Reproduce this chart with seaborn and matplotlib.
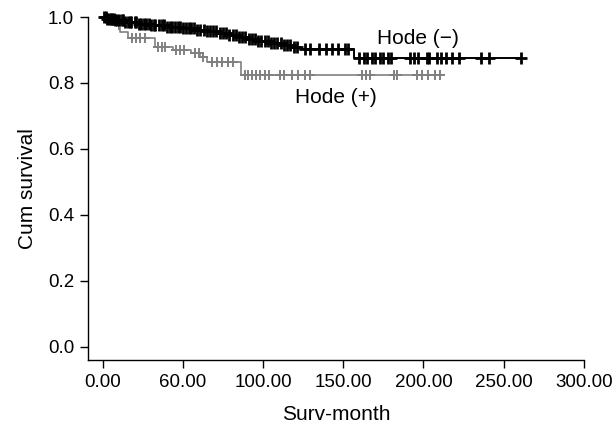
import numpy as np
import pandas as pd
import matplotlib
matplotlib.use("Agg")
import matplotlib.pyplot as plt
import seaborn as sns

# -----------------------------------
# Kaplan-Meier step data
# -----------------------------------
neg_times = [0, 3, 8, 14, 22, 30, 40, 50, 58, 65, 72, 78, 84, 90, 96, 104, 112, 118, 123, 157]
neg_surv = [1.0, 0.995, 0.99, 0.985, 0.98, 0.975, 0.97, 0.966, 0.962, 0.957, 0.951, 0.945,
            0.938, 0.932, 0.926, 0.92, 0.914, 0.909, 0.903, 0.876]
neg_end = 261

pos_times = [0, 6, 11, 16, 33, 44, 55, 61, 65, 86]
pos_surv = [1.0, 0.975, 0.955, 0.935, 0.91, 0.90, 0.89, 0.878, 0.864, 0.824]
pos_end = 210

# censored cases (months)
neg_censor = [1, 2, 3, 4, 5, 6, 7, 8, 9, 10, 12, 13, 14, 16, 17, 18, 20, 21, 23, 24, 26, 27,
              29, 30, 32, 33, 35, 37, 38, 40, 42, 43, 45, 47, 48, 50, 52, 54, 55, 57, 59, 61,
              63, 65, 67, 69, 71, 73, 75, 77, 79, 81, 83, 85, 87, 89, 91, 93, 95, 97, 99, 101,
              103, 105, 107, 109, 111, 113, 115, 117, 119, 121, 126, 129, 135, 139, 143, 147,
              151, 153, 160, 162.7, 165, 167.7, 170, 172.7, 175, 177.6, 180, 191.3, 193.8,
              196.3, 201.9, 203.7, 208.7, 211.2, 214.3, 218, 222.4, 236.1, 241, 261]
pos_censor = [10, 18.6, 21, 23.6, 26.7, 34.8, 37.3, 39, 46, 48.4, 51, 57.8, 60.2, 62.7, 68.3,
              71.4, 74.5, 78.3, 81.4, 88.8, 90.7, 93.2, 95.6, 98.1, 101, 104, 110.6, 113, 118,
              121.7, 126, 129, 161.5, 164, 166.5, 181.4, 183.2, 195.7, 198.8, 202.5, 207.4, 210]

x_ticks = [0, 50, 100, 150, 200, 250, 300]
x_tick_labels = ["0.00", "60.00", "100.00", "150.00", "200.00", "250.00", "300.00"]
y_ticks = [0.0, 0.2, 0.4, 0.6, 0.8, 1.0]


def step_frame(times, surv, end):
    return pd.DataFrame({"month": list(times) + [end], "surv": list(surv) + [surv[-1]]})


def surv_at(t, times, surv):
    idx = np.searchsorted(times, t, side="right") - 1
    return np.array(surv)[idx]


neg_df = step_frame(neg_times, neg_surv, neg_end)
pos_df = step_frame(pos_times, pos_surv, pos_end)
neg_c = pd.DataFrame({"month": neg_censor, "surv": surv_at(neg_censor, neg_times, neg_surv)})
pos_c = pd.DataFrame({"month": pos_censor, "surv": surv_at(pos_censor, pos_times, pos_surv)})

# -----------------------------------
# Plot
# -----------------------------------
sns.set_style("ticks")
plt.rcParams["font.family"] = ["Liberation Sans", "DejaVu Sans"]
for key in ["text.color", "axes.labelcolor", "xtick.color", "ytick.color"]:
    plt.rcParams[key] = "black"

fig = plt.figure(figsize=(6.16, 4.36), dpi=100)
ax = fig.add_axes([0.143, 0.174, 0.805, 0.787])

grey = "#808080"
sns.lineplot(data=pos_df, x="month", y="surv", drawstyle="steps-post", color=grey,
             linewidth=1.2, estimator=None, sort=False, ax=ax)
sns.scatterplot(data=pos_c, x="month", y="surv", marker="+", s=50, linewidth=1.4,
                color=grey, ax=ax, zorder=3)
sns.lineplot(data=neg_df, x="month", y="surv", drawstyle="steps-post", color="black",
             linewidth=1.4, estimator=None, sort=False, ax=ax)
sns.scatterplot(data=neg_c, x="month", y="surv", marker="+", s=75, linewidth=2.0,
                color="black", ax=ax, zorder=4)

for ln in ax.lines:
    ln.set_clip_on(False)
for coll in ax.collections:
    coll.set_clip_on(False)

ax.text(171, 0.936, "Hode (\u2212)", fontsize=15, va="center", ha="left")
ax.text(120, 0.755, "Hode (+)", fontsize=15, va="center", ha="left")

ax.set_xlim(-9, 300)
ax.set_ylim(-0.04, 1.0)
ax.set_xticks(x_ticks)
ax.set_xticklabels(x_tick_labels)
ax.set_yticks(y_ticks)
ax.set_yticklabels([f"{v:.1f}" for v in y_ticks])
ax.tick_params(labelsize=13.5, length=6, width=1, color="black", labelcolor="black", pad=4)
ax.set_xlabel("Surv-month", fontsize=15, labelpad=10)
ax.set_ylabel("Cum survival", fontsize=15, labelpad=8)
for side in ["left", "bottom"]:
    ax.spines[side].set_linewidth(1)
    ax.spines[side].set_color("black")
sns.despine(ax=ax)

fig.savefig("out.png", dpi=100)
